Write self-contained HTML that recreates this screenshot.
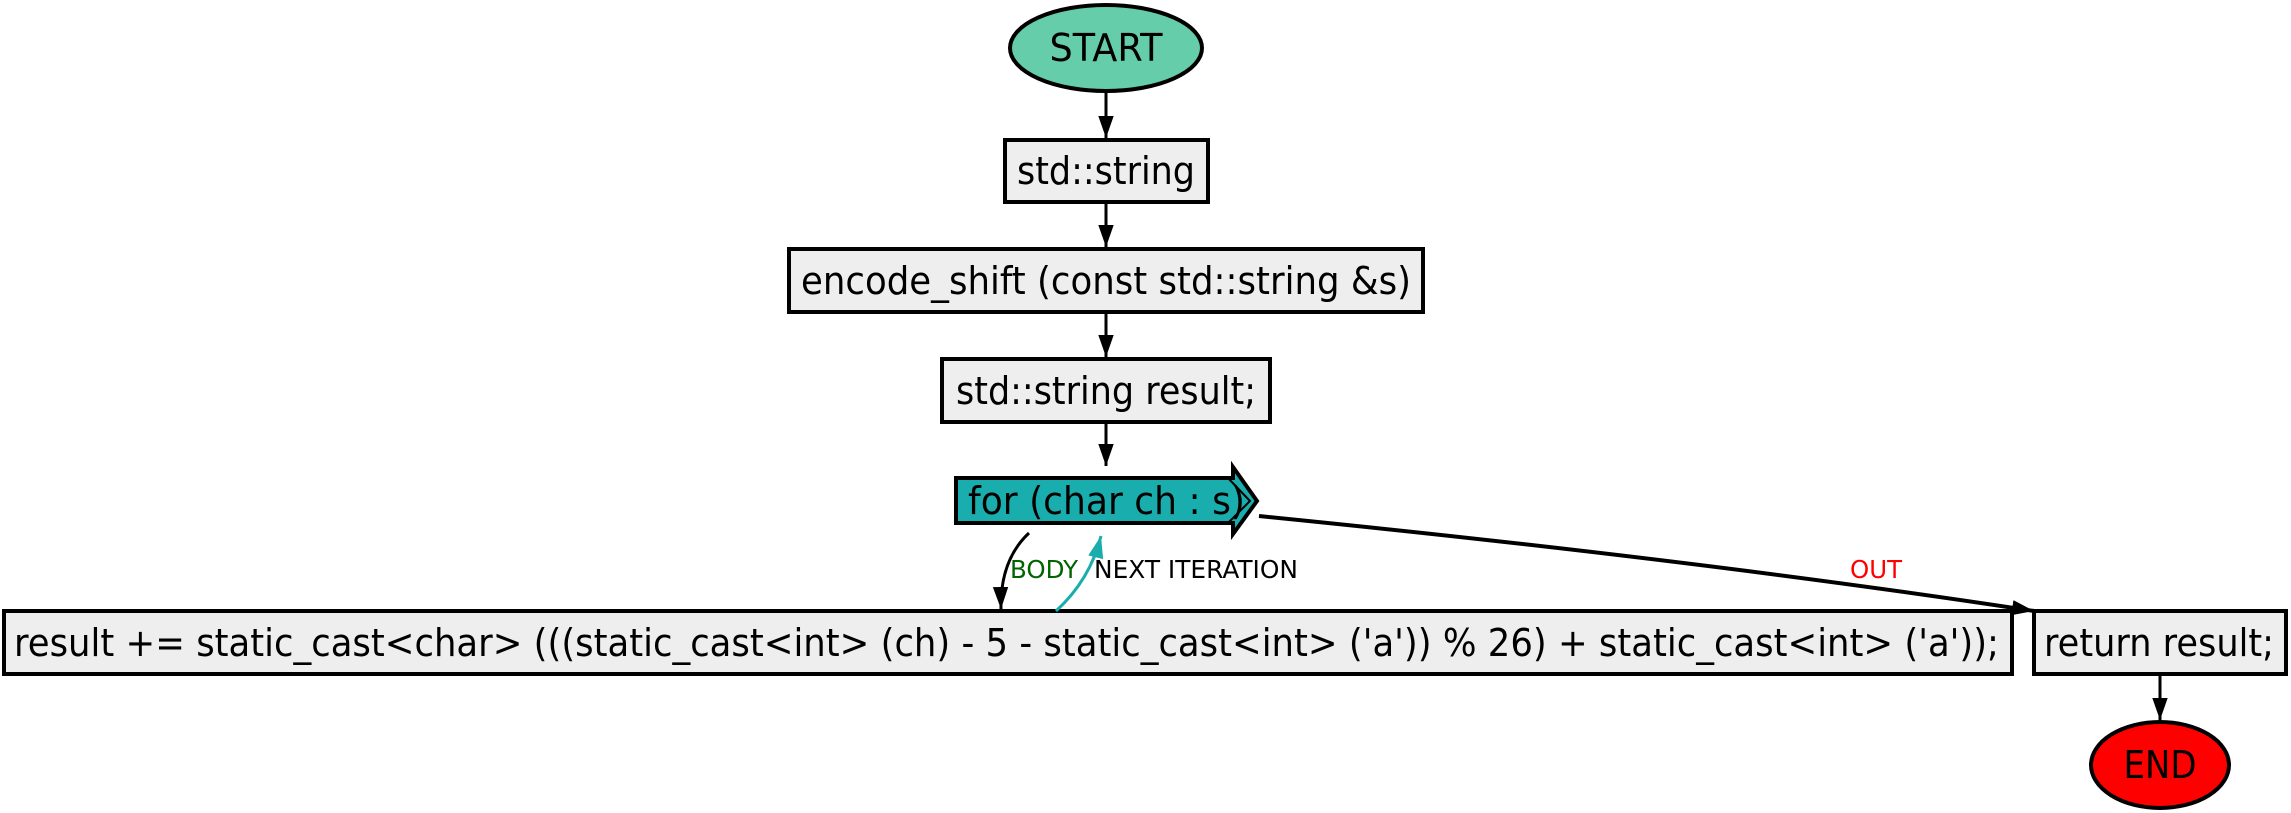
<!DOCTYPE html>
<html><head><meta charset="utf-8"><style>
html,body{margin:0;padding:0;background:#fff;}
svg{display:block;}
text{font-family:"DejaVu Sans","Liberation Sans",sans-serif;}
</style></head><body>
<svg width="2291" height="813" viewBox="0 0 2291 813" xmlns="http://www.w3.org/2000/svg">
<defs>
<marker id="ab" viewBox="0 0 20 14" refX="20" refY="7" markerWidth="22" markerHeight="16" markerUnits="userSpaceOnUse" orient="auto"><path d="M0,0 L20,7 L0,14 z" fill="#000"/></marker>
<marker id="at" viewBox="0 0 20 14" refX="20" refY="7" markerWidth="22" markerHeight="16" markerUnits="userSpaceOnUse" orient="auto"><path d="M0,0 L20,7 L0,14 z" fill="#1aadad"/></marker>
</defs>
<g stroke="#000" stroke-width="4">
<ellipse cx="1106" cy="48" rx="96" ry="43" fill="#66cdaa"/>
<rect x="1005" y="140" width="203" height="62" fill="#eeeeee"/>
<rect x="789" y="249" width="634" height="63" fill="#eeeeee"/>
<rect x="942" y="359" width="328" height="63" fill="#eeeeee"/>
<path d="M956,478 L1233,478 L1233,467 L1257,501 L1233,534 L1233,523 L956,523 Z" fill="#1aadad"/>
<rect x="4" y="611" width="2008" height="63" fill="#eeeeee"/>
<rect x="2034" y="611" width="252" height="63" fill="#eeeeee"/>
<ellipse cx="2160" cy="765" rx="69" ry="43" fill="#ff0000"/>
</g>
<path d="M1228,478 L1250,501 L1228,523" stroke="#000" stroke-width="2" fill="none"/>
<g stroke="#000" stroke-width="3" fill="none">
<line x1="1106" y1="91" x2="1106" y2="138" marker-end="url(#ab)"/>
<line x1="1106" y1="202" x2="1106" y2="247" marker-end="url(#ab)"/>
<line x1="1106" y1="312" x2="1106" y2="357" marker-end="url(#ab)"/>
<line x1="1106" y1="422" x2="1106" y2="466" marker-end="url(#ab)"/>
<line x1="2160" y1="674" x2="2160" y2="720" marker-end="url(#ab)"/>
<path d="M1259,516 Q1700,560 2034,611" stroke-width="4" marker-end="url(#ab)"/>
<path d="M1029,533 Q1000,560 1001,609" marker-end="url(#ab)"/>
<path d="M1056,611 Q1090,580 1101,536" stroke="#1aadad" marker-end="url(#at)"/>
</g>
<g font-size="38" fill="#000">
<text x="1106" y="61" text-anchor="middle" textLength="113" lengthAdjust="spacingAndGlyphs">START</text>
<text x="1106" y="184" text-anchor="middle" textLength="178" lengthAdjust="spacingAndGlyphs">std::string</text>
<text x="1106" y="294" text-anchor="middle" textLength="610" lengthAdjust="spacingAndGlyphs">encode_shift (const std::string &amp;s)</text>
<text x="1106" y="404" text-anchor="middle" textLength="300" lengthAdjust="spacingAndGlyphs">std::string result;</text>
<text x="968" y="514" textLength="277" lengthAdjust="spacingAndGlyphs">for (char ch : s)</text>
<text x="14" y="656" textLength="1985" lengthAdjust="spacingAndGlyphs">result += static_cast&lt;char&gt; (((static_cast&lt;int&gt; (ch) - 5 - static_cast&lt;int&gt; ('a')) % 26) + static_cast&lt;int&gt; ('a'));</text>
<text x="2044" y="656" textLength="230" lengthAdjust="spacingAndGlyphs">return result;</text>
<text x="2160" y="778" text-anchor="middle" textLength="73" lengthAdjust="spacingAndGlyphs">END</text>
</g>
<g font-size="25">
<text x="1010" y="578" fill="#006400" textLength="68" lengthAdjust="spacingAndGlyphs">BODY</text>
<text x="1094" y="578" fill="#000" textLength="204" lengthAdjust="spacingAndGlyphs">NEXT ITERATION</text>
<text x="1850" y="578" fill="#ff0000" textLength="52" lengthAdjust="spacingAndGlyphs">OUT</text>
</g>
</svg>
</body></html>
